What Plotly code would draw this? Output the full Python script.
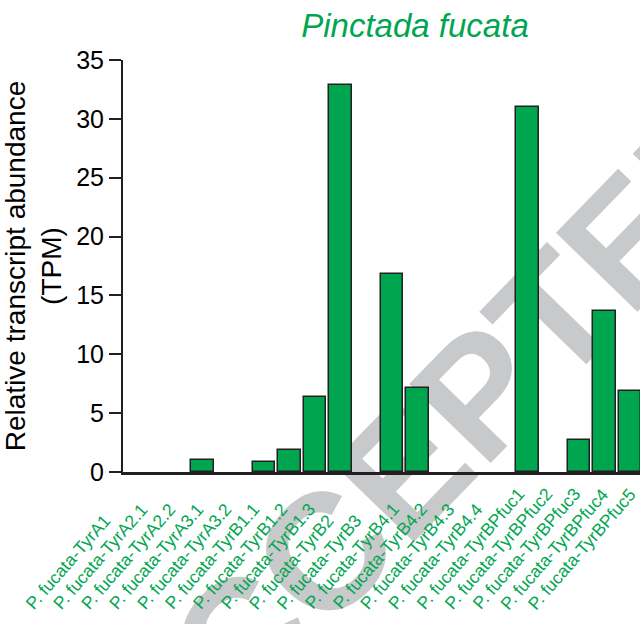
import plotly.graph_objects as go

# Transcript abundance (TPM) of tyrosinase genes in Pinctada fucata
genes = [
    "P. fucata-TyrA1", "P. fucata-TyrA2.1", "P. fucata-TyrA2.2",
    "P. fucata-TyrA3.1", "P. fucata-TyrA3.2",
    "P. fucata-TyrB1.1", "P. fucata-TyrB1.2", "P. fucata-TyrB1.3",
    "P. fucata-TyrB2", "P. fucata-TyrB3",
    "P. fucata-TyrB4.1", "P. fucata-TyrB4.2", "P. fucata-TyrB4.3", "P. fucata-TyrB4.4",
    "P. fucata-TyrBPfuc1", "P. fucata-TyrBPfuc2", "P. fucata-TyrBPfuc3",
    "P. fucata-TyrBPfuc4", "P. fucata-TyrBPfuc5",
]
families = ["TyrA"] * 5 + ["TyrB"] * 9 + ["TyrBPfuc"] * 5
tpm = [0, 0, 0, 1.0, 0,
       0.85, 1.85, 6.35, 32.9, 0, 16.85, 7.1, 0, 0,
       31.0, 0, 2.75, 13.7, 6.85]
y_ticks = [0, 5, 10, 15, 20, 25, 30, 35]

# extra spacing inserted before each gene family (in bar slots)
family_shift = {"TyrA": 0.0, "TyrB": 0.4, "TyrBPfuc": 1.7}
xpos = [i + family_shift[f] for i, f in enumerate(families)]
x_range = [-0.105, 20.09]

# slanted gene names start on an evenly spaced row (in bar slots)
label_origin, label_step = -3.54, 1.09

def slot_to_paper(s):
    return (s - x_range[0]) / (x_range[1] - x_range[0])

GREEN = "#00A54F"
LABEL_GREEN = "#00A651"
INK = "#231F20"
FONT = "Liberation Sans, Arial, sans-serif"

W, H = 640, 624
ML, MR, MT, MB = 123, 0, 60, 152

fig = go.Figure()
fig.add_trace(go.Bar(
    x=xpos, y=tpm, width=0.88,
    marker=dict(color=GREEN,
                # no outline on empty bars so nothing sits on the baseline
                line=dict(color=INK, width=[1.5 if v > 0 else 0 for v in tpm])),
    hoverinfo="skip",
))

# gene names, read bottom-left to top-right, starts aligned along the bottom
for i, name in enumerate(genes):
    fig.add_annotation(
        x=slot_to_paper(label_origin + label_step * i), xref="paper", y=0, yref="y",
        text=name, showarrow=False, textangle=-49,
        xanchor="left", yanchor="bottom", xshift=-16, yshift=-144,
        font=dict(family=FONT, size=17.5, color=LABEL_GREEN),
    )

# faint diagonal watermark behind the bars
pw, ph = W - ML - MR, H - MT - MB
def px_to_paper(px, py):
    return (px - ML) / pw, (H - MB - py) / ph
wcx, wcy = 421, 430
wx0, wy0 = px_to_paper(wcx - 100, wcy + 103)
wx1, wy1 = px_to_paper(wcx + 100, wcy - 103)
fig.add_shape(
    type="line", xref="paper", yref="paper",
    x0=wx0, y0=wy0, x1=wx1, y1=wy1,
    line=dict(width=0, color="rgba(0,0,0,0)"),
    layer="below",
    label=dict(text="ACCEPTED", textposition="middle", yanchor="middle", padding=0,
               font=dict(family=FONT, size=165, color="#C8C9CB", weight="bold")),
)

fig.update_layout(
    width=W, height=H,
    margin=dict(l=ML, r=MR, t=MT, b=MB, autoexpand=False),
    paper_bgcolor="white", plot_bgcolor="white",
    showlegend=False,
    bargap=0,
    title=dict(text="<i>Pinctada fucata</i>", font=dict(family=FONT, size=33, color=LABEL_GREEN),
               x=415 / W, xref="container", xanchor="center",
               y=1 - 25 / H, yref="container", yanchor="middle"),
    xaxis=dict(
        range=x_range,
        showticklabels=False,
        ticks="", showline=True, linecolor=INK, linewidth=2.5,
        showgrid=False, zeroline=False,
    ),
    yaxis=dict(
        range=[0, 35], tickvals=y_ticks,
        tickfont=dict(family=FONT, size=25, color="black"),
        ticks="outside", ticklen=12, tickwidth=2, tickcolor=INK,
        showline=True, linecolor=INK, linewidth=2,
        showgrid=False, zeroline=False,
        title=dict(text="Relative transcript abundance<br>(TPM)",
                   font=dict(family=FONT, size=28, color="black"), standoff=6),
    ),
)

fig.write_html("out.html")
